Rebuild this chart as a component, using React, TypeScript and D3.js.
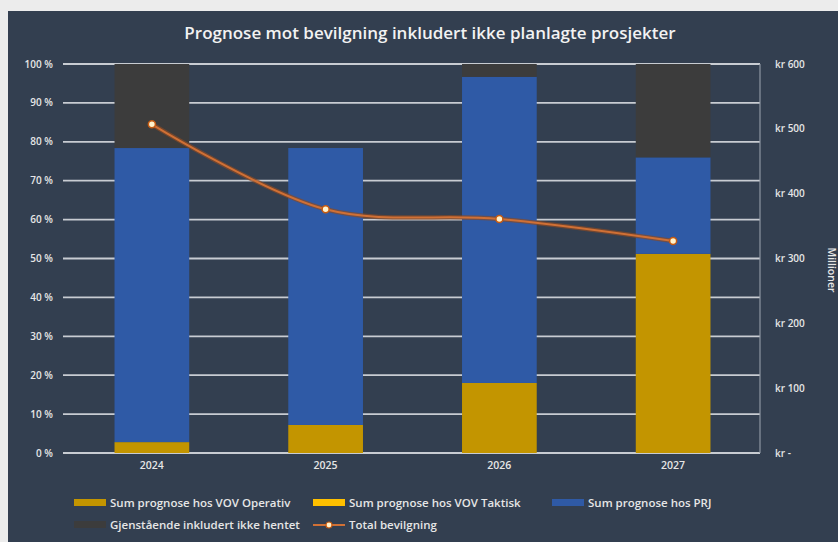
import { useEffect, useRef } from 'react'
import * as d3 from 'd3'

// years on the x axis
const years = ['2024', '2025', '2026', '2027']
// stacked shares (%)
const vovOperativ = [2.8, 7.2, 18, 51.2]
const vovTaktisk = [0, 0, 0, 0]
const prj = [75.6, 71.2, 78.7, 24.8]
const gjenstaende = [21.6, 0, 3.3, 24]
// total bevilgning, millioner kr
const totalBevilgning = [507, 376, 361, 327]

const pctTicks = [0, 10, 20, 30, 40, 50, 60, 70, 80, 90, 100]
const krTicks = [0, 100, 200, 300, 400, 500, 600]

const seriesNames = [
  'Sum prognose hos VOV Operativ',
  'Sum prognose hos VOV Taktisk',
  'Sum prognose hos PRJ',
  'Gjenstående inkludert ikke hentet',
]
const lineName = 'Total bevilgning'
const colors = ['#C39500', '#FFC000', '#2F5AA6', '#3C3C3C']

const W = 838
const H = 542

export default function App() {
  const svgRef = useRef<SVGSVGElement>(null)

  useEffect(() => {
    if (!svgRef.current) return
    const svg = d3.select(svgRef.current)
    svg.selectAll('*').remove()

    const font = 'Open Sans, Liberation Sans, sans-serif'
    const left = 65
    const right = 760
    const top = 64
    const bottom = 453

    svg.append('rect').attr('width', W).attr('height', H).attr('fill', '#ECECEC')
    svg.append('rect').attr('x', 8).attr('y', 11).attr('width', W - 8).attr('height', H - 11).attr('fill', '#333F50')

    const x = d3.scaleBand().domain(years).range([left, right]).paddingInner(0.57).paddingOuter(0.285)
    const y = d3.scaleLinear().domain([0, 100]).range([bottom, top])
    const y2 = d3.scaleLinear().domain([0, 600]).range([bottom, top])

    // title
    svg.append('text')
      .attr('x', 430).attr('y', 39)
      .attr('text-anchor', 'middle')
      .attr('fill', '#F2F2F2')
      .attr('font-family', font)
      .attr('font-size', 17)
      .attr('font-weight', 600)
      .text('Prognose mot bevilgning inkludert ikke planlagte prosjekter')

    // gridlines
    svg.append('g').selectAll('line').data(pctTicks).enter().append('line')
      .attr('x1', left - 2).attr('x2', right)
      .attr('y1', d => y(d)).attr('y2', d => y(d))
      .attr('stroke', '#C8CCD2').attr('stroke-width', 1.8)
    svg.append('line')
      .attr('x1', right).attr('x2', right).attr('y1', top).attr('y2', bottom)
      .attr('stroke', '#8E96A2').attr('stroke-width', 1.2)

    // stacked bars
    const rows = years.map((yr, i) => ({
      year: yr,
      s0: vovOperativ[i],
      s1: vovTaktisk[i],
      s2: prj[i],
      s3: gjenstaende[i],
    }))
    const stack = d3.stack<any>().keys(['s0', 's1', 's2', 's3'])
    const layers = stack(rows)
    layers.forEach((layer, k) => {
      svg.append('g').selectAll('rect').data(layer).enter().append('rect')
        .attr('x', d => x(d.data.year)!)
        .attr('width', x.bandwidth())
        .attr('y', d => y(d[1]))
        .attr('height', d => Math.max(0, y(d[0]) - y(d[1])))
        .attr('fill', colors[k])
    })

    // line
    const pts = years.map((yr, i) => [x(yr)! + x.bandwidth() / 2, y2(totalBevilgning[i])] as [number, number])
    const line = d3.line().curve(d3.curveCatmullRom.alpha(0.5))
    svg.append('path').attr('d', line(pts)).attr('fill', 'none')
      .attr('stroke', '#8A4A25').attr('stroke-width', 4.5).attr('opacity', 0.7)
    svg.append('path').attr('d', line(pts)).attr('fill', 'none')
      .attr('stroke', '#D07035').attr('stroke-width', 2)
    svg.append('g').selectAll('circle').data(pts).enter().append('circle')
      .attr('cx', d => d[0]).attr('cy', d => d[1]).attr('r', 3.5)
      .attr('fill', '#FFF2CC').attr('stroke', '#C55A11').attr('stroke-width', 1.5)

    // left axis labels
    svg.append('g').selectAll('text').data(pctTicks).enter().append('text')
      .attr('x', 53).attr('y', d => y(d) + 3.5)
      .attr('text-anchor', 'end')
      .attr('fill', '#E6E6E6').attr('font-family', font).attr('font-size', 10).attr('font-weight', 600)
      .text(d => `${d} %`)

    // right axis labels
    svg.append('g').selectAll('text').data(krTicks).enter().append('text')
      .attr('x', 775).attr('y', d => y2(d) + 3.5)
      .attr('fill', '#E6E6E6').attr('font-family', font).attr('font-size', 10).attr('font-weight', 600)
      .text(d => (d === 0 ? 'kr -' : `kr ${d}`))

    svg.append('text')
      .attr('transform', `translate(828,270) rotate(90)`)
      .attr('text-anchor', 'middle')
      .attr('fill', '#E6E6E6').attr('font-family', font).attr('font-size', 10.5).attr('font-weight', 600)
      .text('Millioner')

    // category labels
    svg.append('g').selectAll('text').data(years).enter().append('text')
      .attr('x', d => x(d)! + x.bandwidth() / 2).attr('y', 469)
      .attr('text-anchor', 'middle')
      .attr('fill', '#E6E6E6').attr('font-family', font).attr('font-size', 10.5).attr('font-weight', 600)
      .text(d => d)

    // legend
    const legendItems = [
      { name: seriesNames[0], x: 74, y: 503, type: 'bar', color: colors[0] },
      { name: seriesNames[1], x: 313, y: 503, type: 'bar', color: colors[1] },
      { name: seriesNames[2], x: 552, y: 503, type: 'bar', color: colors[2] },
      { name: seriesNames[3], x: 74, y: 525, type: 'bar', color: colors[3] },
      { name: lineName, x: 313, y: 525, type: 'line', color: '#D07035' },
    ]
    const lg = svg.append('g').selectAll('g').data(legendItems).enter().append('g')
      .attr('transform', d => `translate(${d.x},${d.y})`)
    lg.each(function (d) {
      const g = d3.select(this)
      if (d.type === 'bar') {
        g.append('rect').attr('x', 0).attr('y', -4).attr('width', 32).attr('height', 7).attr('fill', d.color)
      } else {
        g.append('line').attr('x1', 0).attr('x2', 32).attr('y1', 0).attr('y2', 0)
          .attr('stroke', d.color).attr('stroke-width', 2)
        g.append('circle').attr('cx', 16).attr('cy', 0).attr('r', 3)
          .attr('fill', '#FFF2CC').attr('stroke', '#C55A11').attr('stroke-width', 1.2)
      }
      g.append('text').attr('x', 36).attr('y', 4)
        .attr('fill', '#E6E6E6').attr('font-family', font).attr('font-size', 11.5).attr('font-weight', 600)
        .text(d.name)
    })
  }, [])

  return (
    <div style={{ position: 'fixed', left: 0, top: 0, width: W, height: H, background: '#ECECEC' }}>
      <svg ref={svgRef} width={W} height={H} style={{ display: 'block' }} />
    </div>
  )
}
